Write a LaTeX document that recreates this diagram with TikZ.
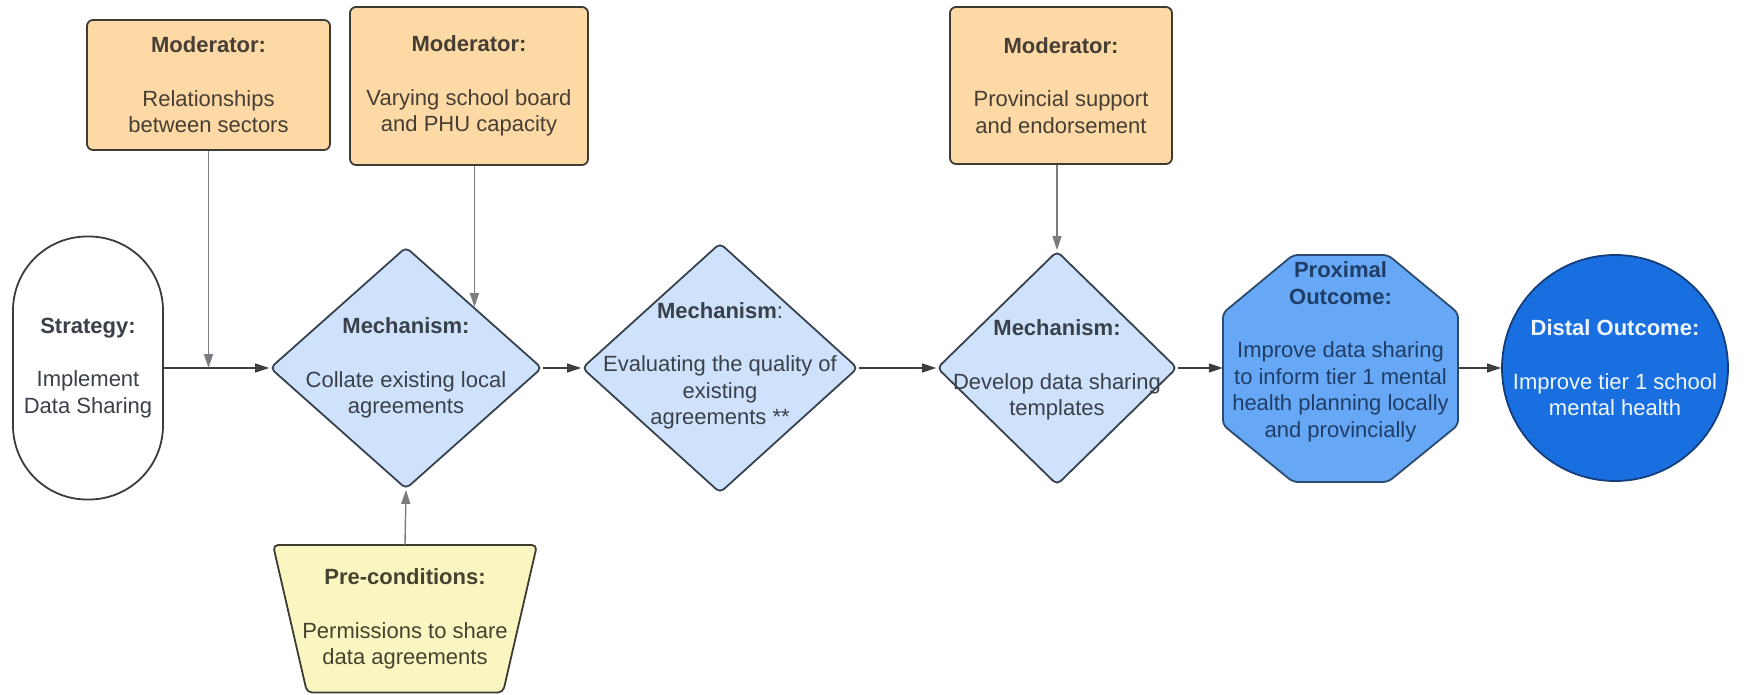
\documentclass[tikz,border=0pt]{standalone}
\usepackage{fontspec}
\setmainfont{Liberation Sans}
\usetikzlibrary{shapes.geometric,arrows.meta}
\definecolor{modfill}{HTML}{FCD9A5}
\definecolor{modline}{HTML}{3F3A34}
\definecolor{modtext}{HTML}{463E34}
\definecolor{mechfill}{HTML}{CFE2FC}
\definecolor{mechline}{HTML}{38424E}
\definecolor{maintext}{HTML}{3A4049}
\definecolor{octfill}{HTML}{66A8F5}
\definecolor{octline}{HTML}{2A4A70}
\definecolor{octtext}{HTML}{1F3D66}
\definecolor{circfill}{HTML}{1A6FE0}
\definecolor{circline}{HTML}{143E7A}
\definecolor{circtext}{HTML}{F0F6FF}
\definecolor{prefill}{HTML}{FAF6C2}
\definecolor{preline}{HTML}{3E3C30}
\definecolor{pretext}{HTML}{45432F}
\definecolor{connc}{HTML}{3A3D42}
\definecolor{modconnc}{HTML}{7A7C80}
\begin{document}
\begin{tikzpicture}[x=1pt,y=-1pt,
  font=\fontsize{22}{26.5}\selectfont,
  modbox/.style={draw=modline, fill=modfill, rounded corners=6pt, line width=1.8pt,
    align=center, text=modtext, inner sep=0pt},
  mech/.style={diamond, draw=mechline, fill=mechfill, line width=1.8pt,
    rounded corners=5pt, inner sep=0pt},
  txt/.style={align=center, text=maintext, inner sep=0pt},
  conn/.style={draw=connc, line width=1.4pt, -{Triangle[length=14pt,width=9pt]}},
  modconn/.style={conn, draw=modconnc}]
\useasboundingbox (0,0) rectangle (1751,695);

% moderators
\node[modbox, minimum width=243pt, minimum height=130pt] (m1) at (208.5,85)
  {\textbf{Moderator:}\\[27pt]Relationships\\between sectors};
\node[modbox, minimum width=238pt, minimum height=158pt] (m2) at (469,86)
  {\textbf{Moderator:}\\[27pt]Varying school board\\and PHU capacity};
\node[modbox, minimum width=222pt, minimum height=157pt] (m3) at (1061,85.5)
  {\textbf{Moderator:}\\[27pt]Provincial support\\and endorsement};

% strategy
\node[draw=connc, fill=white, line width=1.8pt, rounded corners=74pt,
  minimum width=150pt, minimum height=263pt, align=center, text=maintext,
  inner sep=0pt] (s) at (88,368)
  {\textbf{Strategy:}\\[27pt]Implement\\Data Sharing};

% mechanisms
\node[mech, minimum width=272pt, minimum height=242pt] (d1) at (406,368) {};
\node[txt] (d1t) at (406,368)
  {\textbf{Mechanism:}\\[27pt]Collate existing local\\agreements};
\node[mech, minimum width=276pt, minimum height=250pt] (d2) at (720,368) {};
\node[txt] (d2t) at (720,366)
  {\textbf{Mechanism}:\\[27pt]Evaluating the quality of\\existing\\agreements **};
\node[mech, minimum width=240pt, minimum height=234pt] (d3) at (1057,368) {};
\node[txt] (d3t) at (1057,370)
  {\textbf{Mechanism:}\\[27pt]Develop data sharing\\templates};

% proximal outcome (octagon)
\path[draw=octline, fill=octfill, line width=1.8pt, rounded corners=5pt]
  (1293,255) -- (1388,255) -- (1458,313) -- (1458,425) -- (1388,482)
  -- (1293,482) -- (1223,425) -- (1223,313) -- cycle;
\node[minimum width=235pt, minimum height=227pt, inner sep=0pt] (oct) at (1340.5,368) {};
\node[txt, text=octtext] (octt) at (1340.5,352)
  {\textbf{Proximal}\\\textbf{Outcome:}\\[27pt]Improve data sharing\\to inform tier 1 mental\\health planning locally\\and provincially};

% distal outcome
\node[circle, draw=circline, fill=circfill, line width=1.8pt, minimum size=226pt,
  inner sep=0pt, align=center, text=circtext] (c) at (1615,368)
  {\textbf{Distal Outcome:}\\[27pt]Improve tier 1 school\\mental health};

% pre-conditions (trapezoid)
\path[draw=preline, fill=prefill, line width=1.8pt, rounded corners=5pt]
  (273,545) -- (537,545) -- (503,692.5) -- (307,692.5) -- cycle;
\node[txt, text=pretext, minimum width=264pt, minimum height=148pt] (pre) at (405,619)
  {\textbf{Pre-conditions:}\\[27pt]Permissions to share\\data agreements};

% connectors
\coordinate (j) at (m1.south |- d1.west);
\draw[conn] (s.east) -- (d1.west);
\draw[modconn] (m1.south) -- (j);
\draw[modconn] (d1.north east |- m2.south) -- (d1.north east);
\draw[modconn] (d3.north |- m3.south) -- (d3.north);
\draw[modconn] (pre.north) -- (d1.south);
\draw[conn] (d1.east) -- (d2.west);
\draw[conn] (d2.east) -- (d3.west);
\draw[conn] (d3.east) -- (oct.west);
\draw[conn] (oct.east) -- (c.west);
\end{tikzpicture}
\end{document}
